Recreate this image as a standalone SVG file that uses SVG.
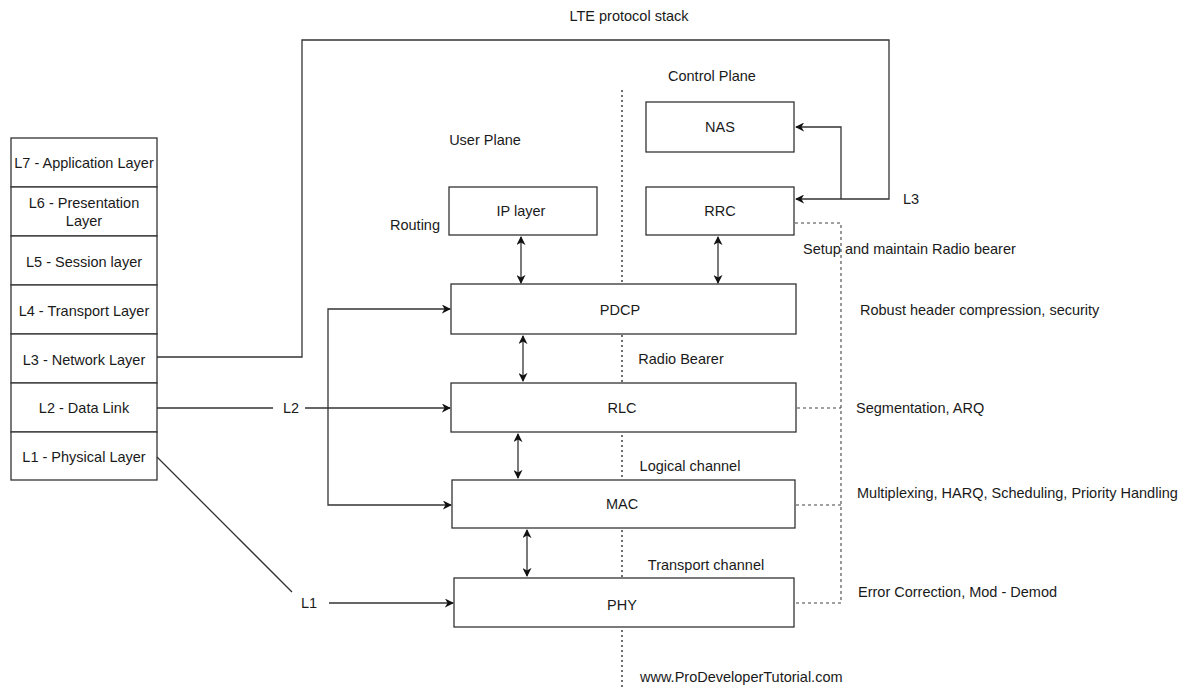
<svg xmlns="http://www.w3.org/2000/svg" width="1187" height="687" viewBox="0 0 1187 687">
<style>
text{font-family:"Liberation Sans",Arial,sans-serif;font-size:14.5px;fill:#1a1a1a}
.c{text-anchor:middle}
.box{fill:#fff;stroke:#333;stroke-width:1.3}
.ln{fill:none;stroke:#333;stroke-width:1.3}
.dash{fill:none;stroke:#444;stroke-width:1.1;stroke-dasharray:3 3}
.dot{fill:none;stroke:#222;stroke-width:1.3;stroke-dasharray:2 3}
</style>
<defs>
<marker id="ah" viewBox="0 0 10 10" refX="9" refY="5" markerWidth="9" markerHeight="9" markerUnits="userSpaceOnUse" orient="auto-start-reverse">
<path d="M0,0 L10,5 L0,10 L3,5 Z" fill="#111"/>
</marker>
</defs>
<rect width="1187" height="687" fill="#fff"/>
<text class="c" x="629" y="21">LTE protocol stack</text>
<g id="osi">
<rect class="box" x="11" y="138" width="146" height="49"/>
<text class="c" x="84" y="168">L7 - Application Layer</text>
<rect class="box" x="11" y="187" width="146" height="49"/>
<text class="c" x="84" y="208">L6 - Presentation</text>
<text class="c" x="84" y="226">Layer</text>
<rect class="box" x="11" y="236" width="146" height="49"/>
<text class="c" x="84" y="267">L5 - Session layer</text>
<rect class="box" x="11" y="285" width="146" height="49"/>
<text class="c" x="84" y="316">L4 - Transport Layer</text>
<rect class="box" x="11" y="334" width="146" height="49"/>
<text class="c" x="84" y="365">L3 - Network Layer</text>
<rect class="box" x="11" y="383" width="146" height="49"/>
<text class="c" x="84" y="413">L2 - Data Link</text>
<rect class="box" x="11" y="432" width="146" height="48"/>
<text class="c" x="84" y="462">L1 - Physical Layer</text>
</g>
<g id="planes">
<line class="dot" x1="622" y1="90" x2="622" y2="687"/>
<text x="668" y="81">Control Plane</text>
<text class="c" x="485" y="145">User Plane</text>
<text class="c" x="415" y="230">Routing</text>
</g>
<g id="nas"><rect class="box" x="646" y="102" width="148" height="50"/><text class="c" x="720" y="132">NAS</text></g>
<g id="ip"><rect class="box" x="449" y="187" width="148" height="48"/><text class="c" x="521" y="216">IP layer</text></g>
<g id="rrc"><rect class="box" x="646" y="187" width="148" height="48"/><text class="c" x="720" y="216">RRC</text></g>
<g id="pdcp"><rect class="box" x="451" y="284" width="345" height="50"/><text class="c" x="620" y="315">PDCP</text></g>
<g id="rlc"><rect class="box" x="451" y="383" width="345" height="49"/><text class="c" x="622" y="413">RLC</text></g>
<g id="mac"><rect class="box" x="452" y="480" width="343" height="48"/><text class="c" x="622" y="509">MAC</text></g>
<g id="phy"><rect class="box" x="454" y="578" width="340" height="49"/><text class="c" x="622" y="610">PHY</text></g>
<g id="connectors">
<polyline class="ln" points="157,357 302,357 302,40 889,40 889,199 796,199" marker-end="url(#ah)"/>
<polyline class="ln" points="841,199 841,127 796,127" marker-end="url(#ah)"/>
<line class="ln" x1="521" y1="237" x2="521" y2="283" marker-start="url(#ah)" marker-end="url(#ah)"/>
<line class="ln" x1="718" y1="237" x2="718" y2="283" marker-start="url(#ah)" marker-end="url(#ah)"/>
<line class="ln" x1="523" y1="336" x2="523" y2="381" marker-start="url(#ah)" marker-end="url(#ah)"/>
<line class="ln" x1="518" y1="434" x2="518" y2="478" marker-start="url(#ah)" marker-end="url(#ah)"/>
<line class="ln" x1="527" y1="530" x2="527" y2="576" marker-start="url(#ah)" marker-end="url(#ah)"/>
<line class="ln" x1="157" y1="408" x2="273" y2="408"/>
<line class="ln" x1="305" y1="408" x2="450" y2="408" marker-end="url(#ah)"/>
<polyline class="ln" points="450,309 328,309 328,505 451,505" marker-start="url(#ah)" marker-end="url(#ah)"/>
<line class="ln" x1="157" y1="457" x2="292" y2="592"/>
<line class="ln" x1="329" y1="603" x2="453" y2="603" marker-end="url(#ah)"/>
<polyline class="dash" points="795,223 841,223 841,603 795,603"/>
<line class="dash" x1="797" y1="408" x2="841" y2="408"/>
<line class="dash" x1="796" y1="505" x2="841" y2="505"/>
</g>
<g id="labels">
<text x="903" y="204">L3</text>
<text class="c" x="291" y="413">L2</text>
<text class="c" x="309" y="608">L1</text>
<text class="c" x="681" y="364">Radio Bearer</text>
<text class="c" x="690" y="471">Logical channel</text>
<text class="c" x="706" y="570">Transport channel</text>
<text x="803" y="254">Setup and maintain Radio bearer</text>
<text x="860" y="315">Robust header compression, security</text>
<text x="856" y="413">Segmentation, ARQ</text>
<text x="857" y="498">Multiplexing, HARQ, Scheduling, Priority Handling</text>
<text x="858" y="597">Error Correction, Mod - Demod</text>
<text x="640" y="682">www.ProDeveloperTutorial.com</text>
</g>
</svg>
